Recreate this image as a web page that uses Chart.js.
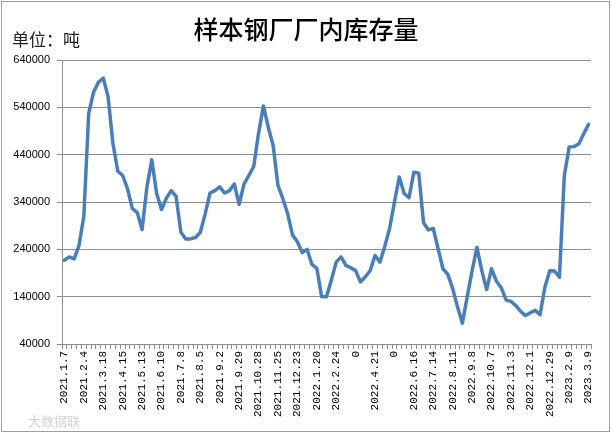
<!DOCTYPE html>
<html>
<head>
<meta charset="utf-8">
<script src="https://cdn.jsdelivr.net/npm/chart.js@4/dist/chart.umd.min.js"></script>
<style>
  html, body { margin: 0; padding: 0; background: #fff; }
  #wrap { position: relative; width: 612px; height: 434px; overflow: hidden; background: #fff; }
  #c { position: absolute; left: 0; top: 0; }
  #frame { position: absolute; left: 1px; top: 1px; width: 607px; height: 429px; border: 1px solid #a0a0a0; pointer-events: none; }
  #title { position: absolute; left: 0; width: 612px; top: 12px; text-align: center; font-family: "Noto Sans CJK SC", sans-serif; font-size: 25px; font-weight: 500; color: #000; line-height: 32px; letter-spacing: 0px; }
  #unit { position: absolute; left: 12px; top: 27px; font-family: "Noto Sans CJK SC", sans-serif; font-size: 17px; color: #222; line-height: 24px; }
  #wm { position: absolute; left: 28px; top: 413px; font-family: "Noto Sans CJK SC", sans-serif; font-size: 13px; color: #d4d4d4; line-height: 16px; }
</style>
</head>
<body>
<div id="wrap">
  <canvas id="c" width="612" height="434"></canvas>
  <div id="title">样本钢厂厂内库存量</div>
  <div id="unit">单位：吨</div>
  <div id="wm">大数据联</div>
  <div id="frame"></div>
</div>
<script>
// Tick labels shown every 4th weekly point
const xTickLabels = ['2021.1.7','2021.2.4','2021.3.18','2021.4.15','2021.5.13','2021.6.10','2021.7.8','2021.8.5','2021.9.2','2021.9.29','2021.10.28','2021.11.25','2021.12.23','2022.1.20','2022.2.24','0','2022.4.21','0','2022.6.16','2022.7.14','2022.8.11','2022.9.8','2022.10.7','2022.11.3','2022.12.1','2022.12.29','2023.2.9','2023.3.9'];
const labelEvery = 4;

// Inventory (tons), weekly
const inventory = [
  217000,224000,220000,248000,310000,527000,572000,593000,602000,562000,
  463000,405000,396000,368000,326000,318000,282000,372000,429000,358000,
  324000,348000,364000,352000,276000,262000,262000,265000,276000,315000,
  359000,364000,372000,359000,364000,378000,335000,378000,396000,415000,
  485000,543000,498000,460000,375000,347000,315000,270000,256000,233000,
  240000,208000,200000,140000,140000,175000,213000,224000,206000,201000,
  195000,171000,182000,195000,227000,213000,246000,284000,340000,393000,
  358000,349000,403000,401000,296000,281000,284000,241000,199000,187000,
  157000,118000,84000,140000,195000,244000,195000,155000,199000,173000,
  159000,133000,130000,121000,109000,100000,106000,111000,102000,160000,
  195000,194000,181000,396000,456000,457000,463000,484000,504000
];

const yMin = 40000, yMax = 640000, yStep = 100000;

const categories = inventory.map((_, i) => (i % labelEvery === 0 ? xTickLabels[i / labelEvery] : ''));

const gridColor = '#8e8e8e';

new Chart(document.getElementById('c'), {
  type: 'line',
  data: {
    labels: categories,
    datasets: [{
      data: inventory,
      borderColor: '#4a7ebb',
      backgroundColor: '#4a7ebb',
      borderWidth: 3.5,
      pointRadius: 0,
      tension: 0,
      borderJoinStyle: 'round',
      borderCapStyle: 'round',
      fill: false
    }]
  },
  options: {
    responsive: false,
    animation: false,
    layout: { padding: { top: 60, right: 21, bottom: 0, left: 0 } },
    plugins: { legend: { display: false }, title: { display: false }, tooltip: { enabled: false } },
    scales: {
      x: {
        type: 'category',
        offset: true,
        grid: { display: true, drawOnChartArea: false, drawTicks: true, tickLength: 5, color: gridColor, offset: true },
        border: { display: true, color: gridColor, width: 1 },
        ticks: {
          autoSkip: false,
          maxRotation: 90,
          minRotation: 90,
          padding: 2,
          color: '#000',
          font: { family: '"Liberation Mono", "DejaVu Sans Mono", monospace', size: 11 },
          callback: function(value) { return this.getLabelForValue(value); }
        },
        afterFit: function(scale) { scale.height = 90; }
      },
      y: {
        min: yMin,
        max: yMax,
        grid: { color: gridColor, tickLength: 5, drawTicks: true },
        border: { display: true, color: gridColor, width: 1 },
        ticks: {
          stepSize: yStep,
          padding: 7,
          color: '#000',
          font: { family: '"Liberation Sans", Arial, sans-serif', size: 11 },
          callback: v => String(v)
        },
        afterFit: function(scale) { scale.width = 62; }
      }
    }
  }
});
</script>
</body>
</html>
